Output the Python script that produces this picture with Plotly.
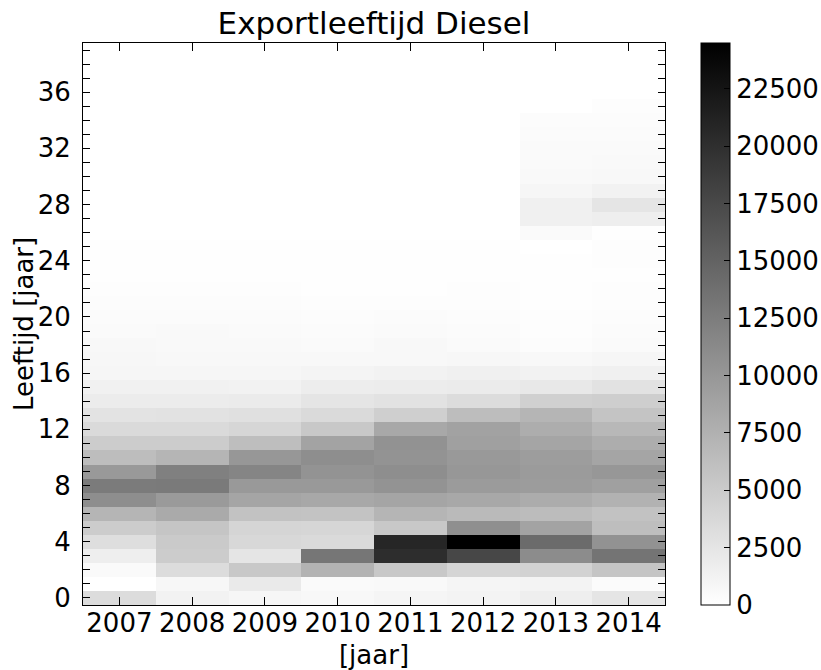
import plotly.graph_objects as go

# Export year (columns) and vehicle age in years (rows)
years = [2007, 2008, 2009, 2010, 2011, 2012, 2013, 2014]
ages = list(range(40))

# Number of exported diesel cars per age, index = age 0..39
export_2007 = [3360, 0, 480, 1630, 3170, 4900, 7110, 10860, 12680, 9800,
               6340, 4900, 3560, 2690, 1830, 1350, 860, 770, 670, 480,
               380, 290, 190, 120, 80, 60, 40, 30, 25, 20,
               15, 10, 10, 5, 5, 3, 2, 1, 1, 0]
export_2008 = [1250, 770, 3360, 4900, 5090, 5570, 8170, 9700, 12780, 12200,
               7110, 4900, 3560, 2790, 1830, 1350, 860, 670, 620, 530,
               380, 290, 190, 120, 80, 60, 45, 35, 25, 20,
               15, 10, 8, 5, 4, 3, 2, 1, 1, 0]
export_2009 = [860, 2020, 5280, 2500, 3750, 4040, 5860, 8650, 9800, 11720,
               9990, 6250, 3940, 2980, 1920, 1250, 860, 670, 580, 480,
               380, 290, 200, 130, 90, 60, 45, 35, 25, 20,
               15, 10, 8, 5, 4, 3, 2, 1, 1, 0]
export_2010 = [670, 480, 7300, 13160, 3560, 3940, 5770, 8360, 9800, 10380,
               10860, 8840, 5280, 3560, 2500, 1730, 1060, 670, 480, 380,
               290, 190, 100, 80, 60, 50, 40, 30, 25, 20,
               15, 10, 8, 5, 4, 3, 2, 1, 1, 0]
export_2011 = [960, 580, 5280, 20180, 20850, 5280, 7110, 8650, 10380, 10860,
               10380, 10470, 8360, 4610, 2790, 1830, 1250, 670, 670, 480,
               380, 190, 120, 100, 60, 50, 40, 30, 25, 20,
               15, 10, 8, 5, 4, 3, 2, 1, 1, 0]
export_2012 = [1150, 960, 4040, 17680, 24500, 10760, 6630, 8360, 9610, 9990,
               9800, 9130, 8940, 6340, 3360, 1920, 1440, 770, 480, 380,
               290, 240, 190, 140, 100, 60, 45, 35, 25, 20,
               15, 10, 8, 5, 4, 3, 2, 1, 1, 0]
export_2013 = [1630, 1150, 4320, 11050, 14220, 8840, 6440, 7970, 9510, 9610,
               9420, 8650, 7880, 7110, 4520, 2210, 1250, 670, 290, 200,
               150, 120, 100, 80, 60, 40, 480, 1440, 1440, 860,
               580, 480, 480, 380, 290, 20, 10, 5, 2, 0]
export_2014 = [2500, 380, 5570, 13360, 10470, 6250, 5860, 7400, 9130, 9990,
               8650, 7880, 6820, 5670, 4710, 2790, 1440, 860, 480, 380,
               290, 190, 150, 120, 190, 190, 100, 1630, 2500, 1250,
               670, 580, 480, 380, 290, 190, 10, 5, 2, 0]

series = [export_2007, export_2008, export_2009, export_2010,
          export_2011, export_2012, export_2013, export_2014]

age_ticks = [a for a in ages]
age_labels = [str(a) if a % 4 == 0 else "" for a in ages]
cbar_ticks = [0, 2500, 5000, 7500, 10000, 12500, 15000, 17500, 20000, 22500]
cbar_labels = [str(v) for v in cbar_ticks]

z = [[col[a] for col in series] for a in ages]

FONT = "DejaVu Sans"
L, R, T, B = 83, 156, 43, 65
W, H = 821, 670
plot_w = W - L - R

fig = go.Figure(
    go.Heatmap(
        x=years,
        y=ages,
        z=z,
        zmin=0,
        colorscale=[[0, "#ffffff"], [1, "#000000"]],
        zsmooth=False,
        colorbar=dict(
            thickness=29,
            thicknessmode="pixels",
            len=1,
            lenmode="fraction",
            y=0.5,
            yanchor="middle",
            ypad=0,
            x=(701 - L) / plot_w,
            xanchor="left",
            xpad=0,
            outlinecolor="black",
            outlinewidth=1,
            ticks="inside",
            ticklen=6,
            tickcolor="black",
            tickvals=cbar_ticks,
            ticktext=cbar_labels,
            tickfont=dict(family=FONT, size=26, color="black"),
        ),
    )
)

axis_common = dict(
    automargin=False,
    showgrid=False,
    zeroline=False,
    showline=True,
    linecolor="black",
    linewidth=1,
    mirror="ticks",
    ticks="inside",
    tickcolor="black",
    tickwidth=1,
    tickfont=dict(family=FONT, size=26, color="black"),
)

fig.update_xaxes(
    **axis_common,
    range=[2006.5, 2014.5],
    tickvals=years,
    ticktext=[str(y) for y in years],
    ticklen=8,
    ticklabelstandoff=-5,
    title=dict(text="[jaar]", font=dict(family=FONT, size=26, color="black"), standoff=12),
)
fig.update_yaxes(
    **axis_common,
    range=[-0.5, 39.5],
    tickvals=age_ticks,
    ticktext=age_labels,
    ticklen=7,
    ticklabelstandoff=6,
)

# Vertical axis label, placed left of the tick labels
fig.add_annotation(
    text="Leeftijd [jaar]",
    textangle=-90,
    xref="paper",
    yref="paper",
    x=(24 - L) / plot_w,
    y=0.5,
    xanchor="center",
    yanchor="middle",
    showarrow=False,
    font=dict(family=FONT, size=26, color="black"),
)

fig.update_layout(
    width=W,
    height=H,
    margin=dict(l=L, r=R, t=T, b=B, autoexpand=False),
    paper_bgcolor="white",
    plot_bgcolor="white",
    font=dict(family=FONT, color="black"),
    title=dict(
        text="Exportleeftijd Diesel",
        font=dict(family=FONT, size=31, color="black"),
        x=0.5,
        xref="paper",
        xanchor="center",
        y=1 - 23 / H,
        yref="container",
        yanchor="middle",
    ),
)

fig.write_html("out.html")
